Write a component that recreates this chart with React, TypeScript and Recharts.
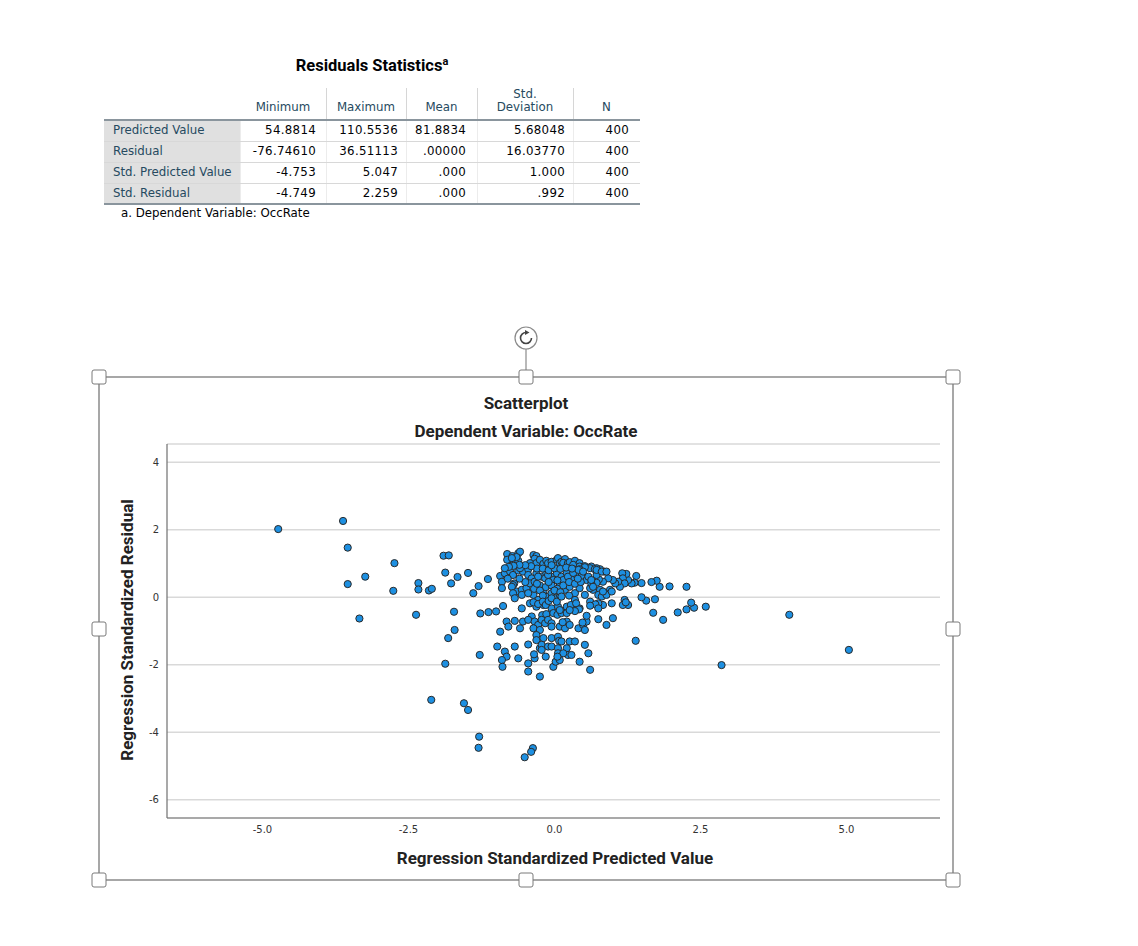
import React from 'react';
import { ScatterChart, Scatter, XAxis, YAxis, CartesianGrid } from 'recharts';

// ---------- Table data ----------
const statHeaders = ['Minimum', 'Maximum', 'Mean', 'Std.|Deviation', 'N'];
const statRowLabels = ['Predicted Value', 'Residual', 'Std. Predicted Value', 'Std. Residual'];
const statMinimum = ['54.8814', '-76.74610', '-4.753', '-4.749'];
const statMaximum = ['110.5536', '36.51113', '5.047', '2.259'];
const statMean = ['81.8834', '.00000', '.000', '.000'];
const statStdDev = ['5.68048', '16.03770', '1.000', '.992'];
const statN = ['400', '400', '400', '400'];

// ---------- Scatter data: [std. predicted value, std. residual] ----------
const farLeftPoints: [number, number][] = [
  [-4.73, 2.02], [-3.62, 2.26], [-3.54, 1.47], [-3.54, 0.39], [-3.24, 0.61], [-3.34, -0.63],
  [-2.74, 1.01], [-2.76, 0.19], [-2.33, 0.42], [-2.33, 0.23], [-2.15, 0.2], [-2.1, 0.25],
  [-2.37, -0.52], [-2.11, -3.04],
];
const leftMidPoints: [number, number][] = [
  [-1.9, 1.23], [-1.81, 1.24], [-1.87, 0.73], [-1.66, 0.6], [-1.48, 0.72], [-1.77, 0.41],
  [-1.39, 0.12], [-1.3, 0.33], [-1.14, 0.54], [-1.72, -0.43], [-1.71, -0.97], [-1.82, -1.21],
  [-1.87, -1.97], [-1.55, -3.14], [-1.48, -3.34], [-1.29, -4.13], [-1.3, -4.46], [-1.27, -0.48],
  [-1.13, -0.44], [-1.0, -0.42], [-0.88, -0.26], [-1.28, -1.71], [-0.98, -1.46], [-0.93, -1.02],
];
const bottomOutliers: [number, number][] = [[-0.37, -4.47], [-0.4, -4.58], [-0.51, -4.74]];
const rightOutliers: [number, number][] = [[5.04, -1.56], [4.02, -0.52], [2.86, -2.01], [1.39, -1.29]];
const rightBandPoints: [number, number][] = [
  [2.59, -0.28], [2.39, -0.31], [2.34, -0.16], [2.26, -0.36], [2.11, -0.45], [1.69, -0.46],
  [1.86, -0.67], [1.72, -0.06], [1.57, -0.1], [1.49, 0.0], [2.26, 0.31], [1.97, 0.32], [1.8, 0.31],
  [1.75, 0.49], [1.66, 0.45], [1.49, 0.42], [1.4, 0.63], [1.37, 0.43], [1.32, 0.41], [1.26, 0.51],
  [1.23, 0.69], [1.16, 0.71], [1.17, 0.56], [1.2, 0.41], [1.12, 0.31], [1.09, 0.46], [1.04, 0.41],
  [1.0, 0.51], [0.92, 0.56], [0.83, 0.46], [0.76, 0.53], [0.72, 0.43], [0.72, 0.66], [0.85, 0.76],
  [0.78, 0.83], [0.72, 0.86], [0.95, 0.22], [0.86, 0.12], [0.78, 0.22], [0.75, 0.07], [0.81, 0.02],
  [0.89, 0.07], [0.98, 0.17], [0.83, 0.17], [0.66, 0.22], [0.61, 0.27], [1.2, -0.08], [1.26, -0.23],
  [1.17, -0.23], [1.22, -0.15], [0.98, -0.18], [0.83, -0.23], [0.75, -0.18], [0.61, -0.13],
  [0.7, -0.21], [1.0, -0.62], [0.89, -0.82], [0.75, -0.65],
];
const upperCorePoints: [number, number][] = [
  [-0.81, 1.28], [-0.72, 1.22], [-0.62, 1.3], [-0.59, 1.35], [-0.81, 1.11], [-0.7, 1.08],
  [-0.62, 1.08], [-0.65, 1.19], [-0.73, 1.16], [-0.36, 1.25], [-0.31, 1.22], [-0.34, 1.14],
  [-0.42, 1.01], [-0.31, 1.01], [-0.25, 1.11], [-0.19, 0.99], [-0.14, 1.08], [-0.11, 1.01],
  [-0.05, 1.05], [0.04, 1.11], [0.06, 1.16], [0.09, 1.01], [0.12, 1.05], [0.18, 1.13], [0.15, 1.02],
  [0.23, 1.01], [0.26, 1.04], [0.35, 1.08], [0.32, 0.96], [0.43, 1.01], [0.43, 0.91], [0.52, 0.92],
  [0.63, 0.91], [0.61, 0.86], [0.52, 0.89], [0.69, 0.83], [0.35, 0.81], [0.43, 0.83],
  [0.72, 0.81], [0.81, 0.76], [0.89, 0.76],
];
const midCorePoints: [number, number][] = [
  [-0.93, 0.63], [-0.9, 0.46], [-0.85, 0.71], [-0.76, 0.76], [-0.71, 0.66], [-0.69, 0.41],
  [-0.62, 0.79], [-0.54, 0.76], [-0.45, 0.83], [-0.9, 0.27], [-0.71, 0.36], [-0.65, 0.17],
  [-0.56, 0.22], [-0.48, 0.27], [-0.59, 0.86], [-0.45, 0.66], [-0.39, 0.56], [-0.31, 0.71],
  [-0.22, 0.61], [-0.14, 0.71], [-0.05, 0.61], [0.04, 0.71], [0.12, 0.61], [0.21, 0.71],
  [0.29, 0.56], [0.38, 0.66], [0.46, 0.61], [0.55, 0.51], [0.63, 0.41], [-0.73, 0.31],
  [-0.71, 0.12], [-0.68, -0.03], [-0.56, 0.07], [-0.42, 0.41], [-0.34, 0.46], [-0.28, 0.61],
  [-0.16, 0.56], [-0.11, 0.66], [-0.02, 0.51], [0.09, 0.41], [0.15, 0.51], [0.23, 0.61],
  [0.32, 0.72], [0.41, 0.81], [0.49, 0.76], [0.58, 0.61], [0.63, 0.51], [0.66, 0.31],
  [-0.36, 0.07], [-0.28, -0.08], [-0.19, 0.17], [-0.11, 0.02], [-0.05, 0.12], [0.01, -0.03],
  [0.09, 0.07], [0.18, 0.22], [0.26, 0.31], [0.35, 0.12], [0.43, 0.27], [0.52, 0.07], [0.35, -0.08],
  [-0.25, 0.35], [-0.15, 0.3], [-0.05, 0.35], [0.05, 0.25], [0.15, 0.35], [0.25, 0.45],
  [0.35, 0.4], [0.45, 0.45], [-0.35, 0.25], [-0.3, 0.85], [-0.2, 0.85], [-0.1, 0.8], [0.0, 0.86],
  [0.1, 0.84], [0.2, 0.88], [0.3, 0.85], [-0.4, 0.92], [-0.5, 0.95], [-0.6, 0.96], [-0.7, 0.93],
  [-0.78, 0.9], [-0.85, 0.86], [0.0, 0.2], [-0.1, 0.45], [0.1, 0.15], [-0.25, 0.2], [-0.45, 0.12],
  [-0.2, 0.05], [0.25, 0.05], [0.4, 0.55], [-0.05, 0.95], [0.05, 0.5], [-0.3, 0.4], [-0.5, 0.45],
  [-0.6, 0.55], [-0.8, 0.55],
];
const lowerCorePoints: [number, number][] = [
  [-0.56, -0.33], [-0.42, -0.18], [-0.31, -0.28], [-0.19, -0.23], [-0.05, -0.33], [0.06, -0.28],
  [0.18, -0.38], [0.32, -0.28], [0.43, -0.33], [0.61, -0.25], [0.75, -0.33], [-0.36, -0.15],
  [-0.28, -0.2], [-0.2, -0.13], [-0.15, -0.23], [-0.1, -0.11], [-0.05, -0.03], [0.04, -0.13],
  [0.12, 0.02], [0.21, -0.28], [0.28, -0.23], [0.37, -0.18], [0.42, -0.36], [-0.21, -0.53],
  [-0.14, -0.5], [-0.02, -0.47], [0.05, -0.52], [0.12, -0.47], [0.21, -0.47], [0.35, -0.41],
  [0.09, -0.38], [0.26, -0.38], [-0.39, -0.57], [-0.82, -0.72], [-0.79, -0.87], [-0.68, -0.7],
  [-0.59, -0.92], [-0.54, -0.72], [-0.45, -0.67], [-0.34, -0.72], [-0.28, -0.82], [-0.22, -0.67],
  [-0.16, -0.77], [-0.11, -0.67], [-0.05, -0.77], [-0.36, -0.92], [-0.25, -0.97], [0.21, -0.72],
  [0.09, -0.87], [0.18, -0.92], [0.26, -0.82], [0.41, -0.92], [0.49, -0.82], [0.55, -0.72],
  [0.52, -0.97], [-0.05, -0.87], [0.55, -0.55], [0.48, -0.75], [0.14, -0.74], [-0.31, -1.12],
  [-0.31, -1.27], [-0.19, -1.21], [-0.25, -1.51], [-0.22, -1.41], [-0.11, -1.46], [-0.05, -1.21],
  [0.06, -1.17], [0.08, -1.29], [-0.05, -1.46], [0.06, -1.51], [0.26, -1.31], [0.35, -1.31],
  [0.21, -1.51], [0.12, -1.31], [0.52, -1.41], [-0.45, -1.4], [-0.68, -1.46], [-0.85, -1.61],
  [-0.82, -1.76], [-0.9, -1.86], [-0.89, -2.06], [-0.62, -1.81], [-0.45, -1.96], [-0.45, -2.2],
  [-0.34, -1.81], [-0.35, -1.69], [-0.25, -2.35], [-0.15, -1.76], [-0.02, -2.06], [0.02, -1.91],
  [0.06, -1.66], [0.09, -1.86], [0.23, -1.71], [0.29, -1.71], [0.58, -1.66], [0.61, -2.15],
  [0.43, -1.91], [0.15, -1.66], [-0.22, -1.56], [0.05, -1.76],
];

const xTicks = [-5, -2.5, 0, 2.5, 5];
const yTicks = [-6, -4, -2, 0, 2, 4];

const allPoints = [
  ...farLeftPoints, ...leftMidPoints, ...bottomOutliers, ...rightOutliers,
  ...rightBandPoints, ...upperCorePoints, ...midCorePoints, ...lowerCorePoints,
].map(([x, y]) => ({ x, y }));

const TABLE_FONT = '"DejaVu Sans", sans-serif';
const TITLE_FONT = 'Roboto, "DejaVu Sans", sans-serif';
const TABLE_SIZE = 11.8;

const colLefts = [104, 240, 326, 406, 477, 573, 640];
const valuePadRight = [10, 8, 11, 8, 11];
const valueColumns = [statMinimum, statMaximum, statMean, statStdDev, statN];

function StatsTable() {
  const cells: React.ReactNode[] = [];
  statHeaders.forEach((h, i) => {
    const left = colLefts[i + 1];
    const width = colLefts[i + 2] - left;
    cells.push(
      <div key={'h' + i} style={{
        position: 'absolute', left, top: 86, width, height: 34, display: 'flex',
        flexDirection: 'column', justifyContent: 'flex-end', alignItems: 'center',
        paddingBottom: 6, boxSizing: 'border-box', fontSize: TABLE_SIZE, lineHeight: '13px',
        color: '#264a60', fontFamily: TABLE_FONT,
      }}>
        {h.split('|').map((t, k) => <div key={k}>{t}</div>)}
      </div>
    );
    if (i > 0) {
      cells.push(<div key={'hs' + i} style={{ position: 'absolute', left: left, top: 88, width: 1, height: 32, background: '#d6d6d6' }} />);
    }
  });
  statRowLabels.forEach((label, r) => {
    const top = 120 + r * 21;
    cells.push(
      <div key={'l' + r} style={{
        position: 'absolute', left: 104, top, width: 136, height: 21, background: '#e0e0e0',
        paddingLeft: 9, boxSizing: 'border-box', fontSize: TABLE_SIZE, lineHeight: '21px',
        color: '#264a60', fontFamily: TABLE_FONT, whiteSpace: 'nowrap',
      }}>{label}</div>
    );
    valueColumns.forEach((col, c) => {
      const left = colLefts[c + 1];
      const width = colLefts[c + 2] - left;
      cells.push(
        <div key={'v' + r + '-' + c} style={{
          position: 'absolute', left, top, width, height: 21, textAlign: 'right',
          paddingRight: valuePadRight[c], boxSizing: 'border-box', fontSize: TABLE_SIZE,
          lineHeight: '21px', color: '#010205', fontFamily: TABLE_FONT, letterSpacing: 0.3,
          borderLeft: '1px solid #ececec', whiteSpace: 'nowrap',
        }}>{col[r]}</div>
      );
    });
    if (r > 0) {
      cells.push(<div key={'rl' + r} style={{ position: 'absolute', left: 104, top, width: 536, height: 1, background: '#d8d8d8' }} />);
    }
  });
  return (
    <>
      <div style={{
        position: 'absolute', left: 104, top: 55, width: 536, textAlign: 'center',
        fontFamily: TITLE_FONT, fontWeight: 700, fontSize: 16.5, lineHeight: '22px', color: '#010205',
      }}>
        Residuals Statistics<sup style={{ fontSize: 11, lineHeight: 0 }}>a</sup>
      </div>
      {cells}
      <div style={{ position: 'absolute', left: 104, top: 119, width: 536, height: 2, background: '#8a959d' }} />
      <div style={{ position: 'absolute', left: 104, top: 203, width: 536, height: 2, background: '#8a959d' }} />
      <div style={{
        position: 'absolute', left: 121, top: 206, fontFamily: TABLE_FONT, fontSize: TABLE_SIZE,
        lineHeight: '14px', color: '#010205',
      }}>a. Dependent Variable: OccRate</div>
    </>
  );
}

const renderDot = (props: any) => {
  const { cx, cy } = props;
  if (cx == null || cy == null) return <g />;
  return <circle cx={cx} cy={cy} r={3.6} fill="#1d90e2" stroke="#2a2a2a" strokeWidth={1} />;
};

const handlePositions: [number, number][] = [
  [99, 377], [526, 377], [953, 377], [99, 629], [953, 629], [99, 880], [526, 880], [953, 880],
];

export default function App() {
  return (
    <div style={{ position: 'absolute', left: 0, top: 0, width: 1138, height: 946, background: '#fff', overflow: 'hidden' }}>
      <StatsTable />
      <div style={{ position: 'absolute', left: 99, top: 377 }}>
        <ScatterChart width={854} height={503} margin={{ top: 67, right: 13, bottom: 0, left: 0 }}>
          <CartesianGrid horizontal vertical={false} stroke="#d9d9d9" strokeWidth={1.5} />
          <XAxis
            type="number" dataKey="x" domain={[-6.634, 6.6]} ticks={xTicks} allowDataOverflow
            tickFormatter={(v: number) => v.toFixed(1)} height={62}
            axisLine={{ stroke: '#707070', strokeWidth: 1.2 }} tickLine={false}
            tick={{ fontSize: 10, fill: '#333', fontFamily: TABLE_FONT }}
          />
          <YAxis
            type="number" dataKey="y" domain={[-6.54, 4.54]} ticks={yTicks} allowDataOverflow
            width={68} axisLine={{ stroke: '#707070', strokeWidth: 1.2 }} tickLine={false}
            tick={{ fontSize: 10, fill: '#333', fontFamily: TABLE_FONT }}
          />
          <Scatter data={allPoints} isAnimationActive={false} shape={renderDot} />
        </ScatterChart>
      </div>
      <svg width={1138} height={946} style={{ position: 'absolute', left: 0, top: 0, pointerEvents: 'none' }}>
        <rect x={99} y={377} width={854} height={503} fill="none" stroke="#8a8a8a" strokeWidth={1.5} />
        <line x1={526} y1={349} x2={526} y2={370} stroke="#8a8a8a" strokeWidth={1.2} />
        <circle cx={526} cy={338} r={11} fill="#fff" stroke="#8a8a8a" strokeWidth={1.2} />
        <path d="M 526 332.5 A 5.5 5.5 0 1 0 531.5 338" fill="none" stroke="#444" strokeWidth={1.6} />
        <path d="M 525 330 L 529.5 332.5 L 525 335 Z" fill="#444" />
        {handlePositions.map(([x, y], i) => (
          <rect key={i} x={x - 7} y={y - 7} width={14} height={14} rx={2} fill="#fff" stroke="#7a7a7a" strokeWidth={1} />
        ))}
        <text x={526} y={403} textAnchor="middle" dominantBaseline="central" fontFamily={TITLE_FONT} fontWeight={700} fontSize={17} fill="#222">Scatterplot</text>
        <text x={526} y={431} textAnchor="middle" dominantBaseline="central" fontFamily={TITLE_FONT} fontWeight={700} fontSize={17} fill="#222">Dependent Variable: OccRate</text>
        <text x={555} y={858} textAnchor="middle" dominantBaseline="central" fontFamily={TITLE_FONT} fontWeight={700} fontSize={17} fill="#222">Regression Standardized Predicted Value</text>
        <text x={127} y={630} textAnchor="middle" dominantBaseline="central" fontFamily={TITLE_FONT} fontWeight={700} fontSize={17} fill="#222" transform="rotate(-90 127 630)">Regression Standardized Residual</text>
      </svg>
    </div>
  );
}
